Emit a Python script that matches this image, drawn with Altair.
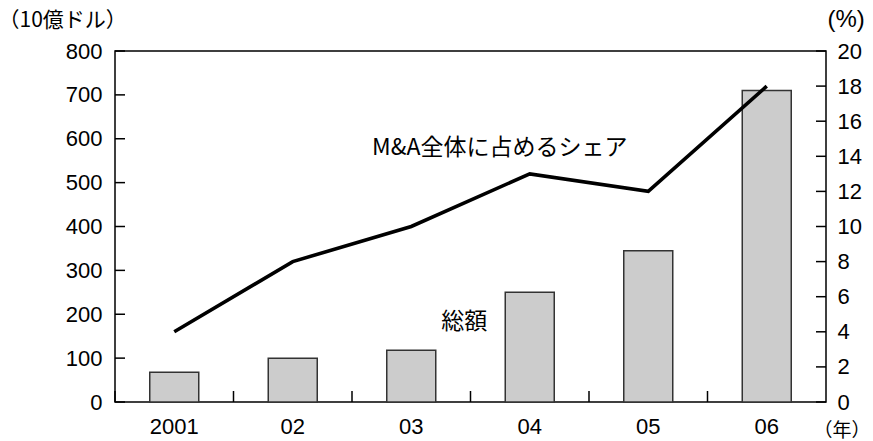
import altair as alt
import pandas as pd

# Cross-border M&A totals (billion USD) and share of all M&A (%)
years = ["2001", "02", "03", "04", "05", "06"]
total_usd_bn = [68, 100, 118, 250, 345, 710]
share_pct = [4, 8, 10, 13, 12, 18]

left_ticks = [0, 100, 200, 300, 400, 500, 600, 700, 800]
right_ticks = [0, 2, 4, 6, 8, 10, 12, 14, 16, 18, 20]

df = pd.DataFrame({"year": years, "total": total_usd_bn, "share": share_pct})
left_df = pd.DataFrame({"v": left_ticks})
right_df = pd.DataFrame({"v": right_ticks})

NUM_FONT = "Liberation Sans, Arial, Helvetica, sans-serif"
JP_FONT = "Noto Sans CJK JP, sans-serif"

x_scale = alt.Scale(domain=years, paddingInner=0, paddingOuter=0)
x_axis = alt.Axis(
    title="（年）", titleAngle=0, titleAlign="left", titleBaseline="middle",
    titleX=698, titleY=28, titleFont=JP_FONT, titleFontSize=19,
    titleFontWeight="normal", titleColor="black",
    labelFont=NUM_FONT, labelFontSize=22, labelColor="black", labelPadding=14,
    labelAngle=0, ticks=False, domain=False, grid=False,
)
x_enc = alt.X("year:N", scale=x_scale, axis=x_axis, sort=years)

yl_scale = alt.Scale(domain=[0, 800], nice=False, zero=True)
yl_axis = alt.Axis(
    orient="left", values=left_ticks, title="（10億ドル）", titleAngle=0,
    titleAlign="left", titleBaseline="middle", titleX=-117, titleY=-31,
    titleFont=JP_FONT, titleFontSize=21, titleFontWeight="normal",
    titleColor="black", labelFont=NUM_FONT, labelFontSize=22,
    labelColor="black", labelPadding=13, ticks=False, domain=False, grid=False,
)
yr_scale = alt.Scale(domain=[0, 20], nice=False, zero=True)
yr_axis = alt.Axis(
    orient="right", values=right_ticks, title="(%)", titleAngle=0,
    titleAlign="left", titleBaseline="middle", titleX=1, titleY=-32,
    titleFont=NUM_FONT, titleFontSize=24, titleFontWeight="normal",
    titleColor="black", labelFont=NUM_FONT, labelFontSize=22,
    labelColor="black", labelPadding=11, ticks=False, domain=False, grid=False,
)

bars = alt.Chart(df).mark_bar(
    size=49, color="#cccccc", stroke="#333333", strokeWidth=1.5
).encode(x=x_enc, y=alt.Y("total:Q", scale=yl_scale, axis=yl_axis))

# inward ticks on the left axis
lticks = alt.Chart(left_df).mark_rule(color="black", strokeWidth=1.5).encode(
    y=alt.Y("v:Q", scale=yl_scale, axis=yl_axis),
    x=alt.value(0), x2=alt.value(10),
)

# inward ticks between categories on the x axis
xticks = alt.Chart(df).mark_rule(color="black", strokeWidth=1.5).encode(
    x=alt.X("year:N", scale=x_scale, axis=x_axis, sort=years, bandPosition=0),
    y=alt.value(340), y2=alt.value(351),
)

sum_label = alt.Chart(pd.DataFrame({"year": ["03"], "v": [183], "t": ["総額"]})).mark_text(
    font=JP_FONT, fontSize=23, color="black", dx=53, baseline="middle", align="center"
).encode(x=x_enc, y=alt.Y("v:Q", scale=yl_scale, axis=yl_axis), text="t:N")

left_layer = alt.layer(bars, lticks, xticks, sum_label)

line = alt.Chart(df).mark_line(color="black", strokeWidth=3.6).encode(
    x=x_enc, y=alt.Y("share:Q", scale=yr_scale, axis=yr_axis)
)

rticks = alt.Chart(right_df).mark_rule(color="black", strokeWidth=1.5).encode(
    y=alt.Y("v:Q", scale=yr_scale, axis=yr_axis),
    x=alt.value(701), x2=alt.value(711),
)

share_label = alt.Chart(
    pd.DataFrame({"year": ["04"], "v": [14.5], "t": ["M&A全体に占めるシェア"]})
).mark_text(
    font=JP_FONT, fontSize=23, color="black", dx=-30, baseline="middle", align="center"
).encode(x=x_enc, y=alt.Y("v:Q", scale=yr_scale, axis=yr_axis), text="t:N")

right_layer = alt.layer(line, rticks, share_label)

chart = (
    alt.layer(left_layer, right_layer)
    .resolve_scale(y="independent")
    .properties(
        width=711, height=351,
        autosize=alt.AutoSizeParams(type="none"),
        padding={"left": 115, "top": 51, "right": 47, "bottom": 39},
        background="white",
    )
    .configure_view(stroke="black", strokeWidth=1.5)
)

chart.save("out.html", embed_options={"renderer": "svg", "actions": False})
